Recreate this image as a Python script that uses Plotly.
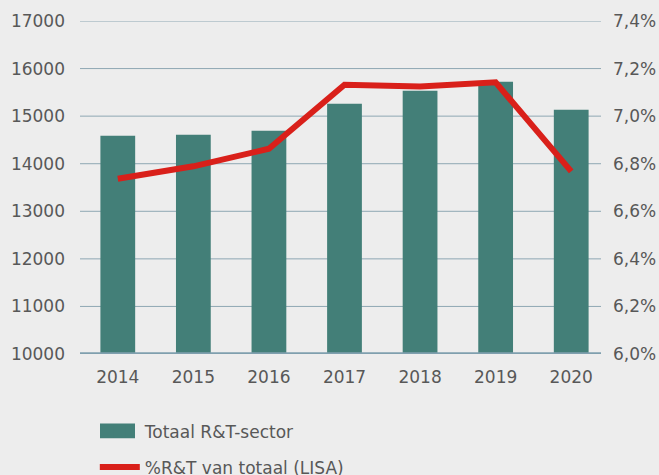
import plotly.graph_objects as go

years = ["2014", "2015", "2016", "2017", "2018", "2019", "2020"]
totaal_rt = [14590, 14610, 14695, 15263, 15536, 15725, 15137]
pct_rt = [6.737, 6.789, 6.863, 7.132, 7.125, 7.142, 6.768]
left_ticks = [10000, 11000, 12000, 13000, 14000, 15000, 16000, 17000]
right_ticks = [6.0, 6.2, 6.4, 6.6, 6.8, 7.0, 7.2, 7.4]
right_labels = [f"{v:.1f}".replace(".", ",") + "%" for v in right_ticks]

BG = "#ededed"
TXT = "#585858"
BAR = "#437f78"
FONT = "DejaVu Sans"
FS = 17

fig = go.Figure()
fig.add_trace(go.Bar(x=years, y=totaal_rt, name="Totaal R&T-sector",
                     marker=dict(color=BAR, line=dict(width=0)),
                     legendgroup="a", yaxis="y"))
fig.add_trace(go.Scatter(x=years, y=pct_rt, name="%R&T van totaal (LISA)",
                         mode="lines", line=dict(color="#d9201a", width=6),
                         legendgroup="b", yaxis="y2"))

PW = 609 - 80
PH = 354.5 - 21
shapes = []
grid_x1 = (601 - 80) / PW
for v in left_ticks[1:]:
    shapes.append(dict(type="line", xref="paper", yref="y", x0=0, x1=grid_x1,
                       y0=v, y1=v, line=dict(color="#8ea7b3", width=1), layer="below"))
shapes.append(dict(type="line", xref="paper", yref="y", x0=0, x1=grid_x1,
                   y0=left_ticks[0], y1=left_ticks[0],
                   line=dict(color="#7f9fae", width=3.5), layer="above"))
# wider legend swatch for the bar series (as in the reference)
shapes.append(dict(type="rect", xref="paper", yref="paper",
                   x0=(100 - 80) / PW, x1=(135 - 80) / PW,
                   y0=-(439 - 21) / PH + 1, y1=-(424 - 21) / PH + 1,
                   fillcolor=BAR, line=dict(width=0), layer="above"))

fig.update_layout(
    width=659, height=475,
    margin=dict(l=80, r=50, t=21, b=121, autoexpand=False),
    paper_bgcolor=BG, plot_bgcolor=BG,
    font=dict(family=FONT, size=FS, color=TXT),
    bargap=0.54,
    showlegend=True,
    legend=dict(x=0.028, xanchor="left", y=-0.181, yanchor="top",
                orientation="v", tracegroupgap=10, itemwidth=40,
                font=dict(family=FONT, size=FS, color=TXT),
                bgcolor="rgba(0,0,0,0)"),
    xaxis=dict(type="category", range=[-0.5, 6.5], showgrid=False, showline=False,
               zeroline=False, ticks="", tickfont=dict(size=FS, color=TXT),
               ticklabelstandoff=11),
    yaxis=dict(range=[10000, 17000], tickvals=left_ticks, tickformat="d",
               showgrid=False, zeroline=False, showline=False, ticks="",
               tickfont=dict(size=FS, color=TXT), ticklabelstandoff=14),
    yaxis2=dict(range=[6.0, 7.4], tickvals=right_ticks, ticktext=right_labels,
                overlaying="y", side="right", showgrid=False, zeroline=False,
                showline=False, ticks="", tickfont=dict(size=FS, color=TXT),
                ticklabelstandoff=3),
    shapes=shapes,
)

fig.write_html(
    "out.html",
    config={"displayModeBar": False},
    post_script="document.body.style.margin='0px';document.body.style.background='#ededed';",
)
